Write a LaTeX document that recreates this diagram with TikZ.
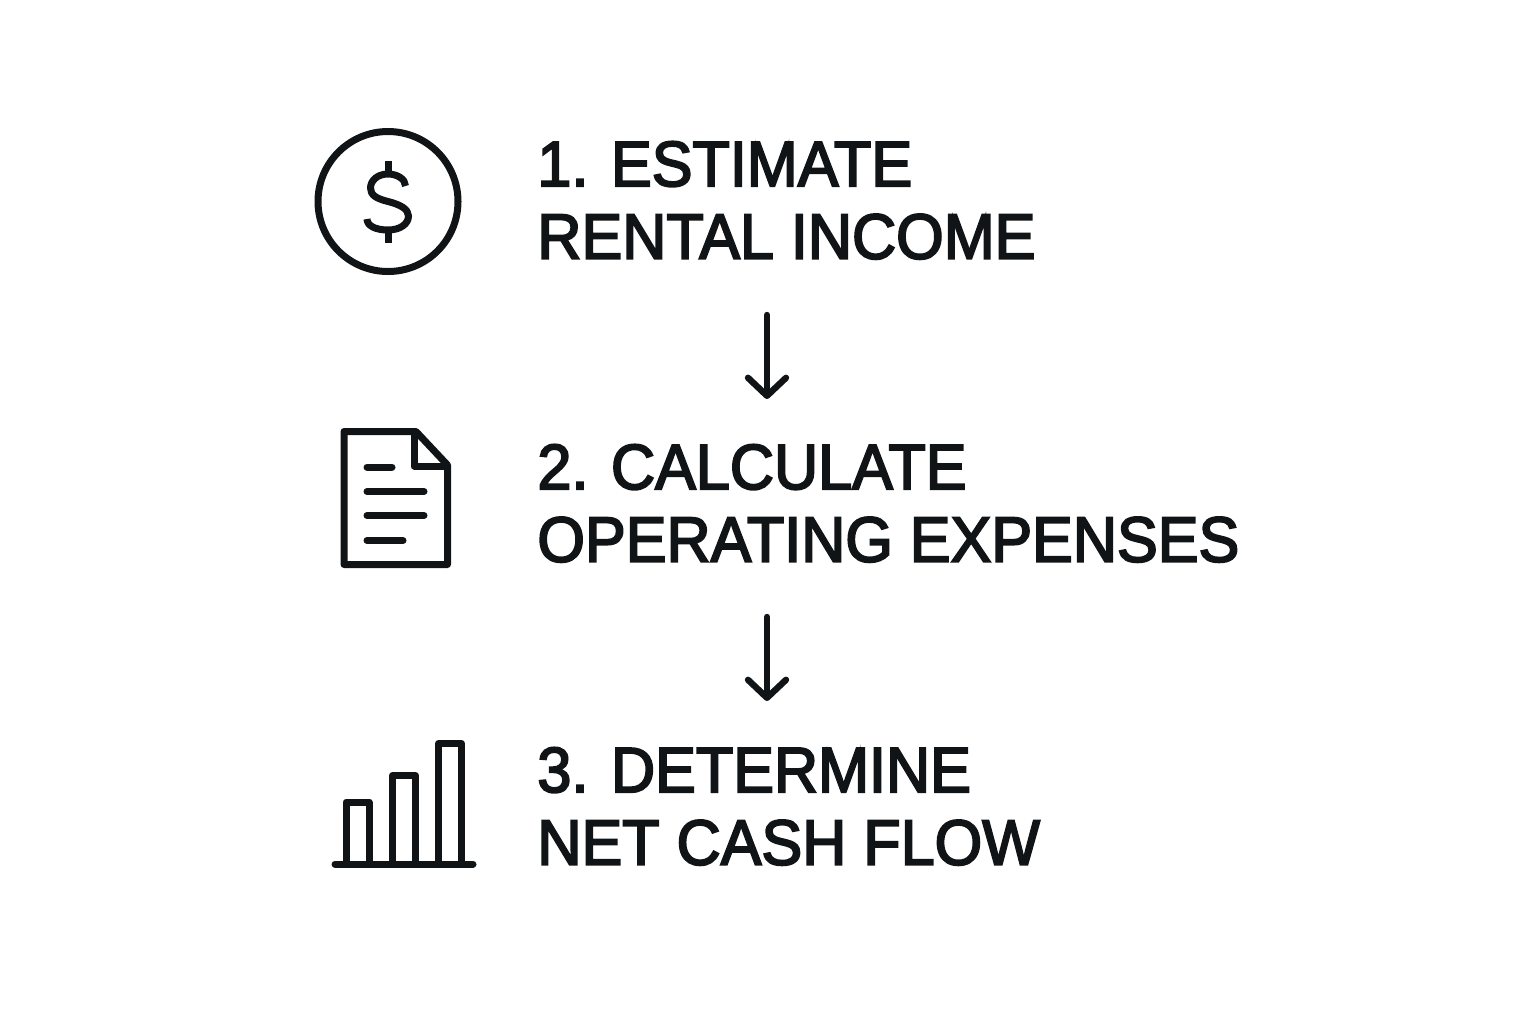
\documentclass[tikz,border=0pt]{standalone}
\usepackage{fontspec}
\setmainfont[FakeBold=3,FakeStretch=0.955]{Liberation Sans}
\usetikzlibrary{arrows.meta}
\definecolor{inkblack}{HTML}{111416}
\tikzset{
    steptext/.style={anchor=north west, inner sep=0pt, align=left, text=inkblack,
        font=\fontsize{32}{36.3}\selectfont},
    iconline/.style={draw=inkblack, line width=3.5pt, line join=round},
    flowarrow/.style={draw=inkblack, line width=3.2pt, line cap=round,
        -{Straight Barb[length=9pt,width=19pt,line width=3.2pt,round]}},
}
\begin{document}
\begin{tikzpicture}[x=0.5pt,y=-0.5pt]
    \useasboundingbox (0,0) rectangle (1536,1024);
    % step labels
    \node[steptext] (step1) at (537,141) {1. ESTIMATE\\RENTAL INCOME};
    \node[steptext] (step2) at (537,444) {2. CALCULATE\\OPERATING EXPENSES};
    \node[steptext] (step3) at (537,747) {3. DETERMINE\\NET CASH FLOW};
    % arrows
    \coordinate (from1) at (767,315);
    \coordinate (to2) at (767,399);
    \coordinate (from2) at (767,617);
    \coordinate (to3) at (767,701);
    \draw[flowarrow] (from1) -- (to2);
    \draw[flowarrow] (from2) -- (to3);
    % dollar icon
    \draw[iconline] (388,201.5) circle (70);
    \draw[iconline] (405.5,186) .. controls (405.5,179) and (397,174) .. (388,174)
        .. controls (377,174) and (370.5,181) .. (370.5,188)
        .. controls (370.5,195) and (376,198.5) .. (388,201.5)
        .. controls (400,204.5) and (408.5,209) .. (408.5,216)
        .. controls (408.5,224) and (400,230) .. (388,230)
        .. controls (376,230) and (367,226) .. (367,219);
    \draw[iconline] (388,161) -- (388,174);
    \draw[iconline] (388,230) -- (388,243);
    % document icon
    \draw[iconline] (344,431.5) -- (416,431.5) -- (447.5,465) -- (447.5,564.5)
        -- (344,564.5) -- cycle;
    \draw[iconline] (414,431.5) -- (414,466) -- (447.5,466);
    \foreach \ly/\lx in {467/392, 491.5/424, 515.5/424, 540.5/403}
        \draw[iconline, line cap=round] (367,\ly) -- (\lx,\ly);
    % bar chart icon
    \foreach \bx/\bt in {346/802, 392.5/775.5, 438.5/743.5}
        \draw[iconline] (\bx,864) -- (\bx,\bt) -- (\bx+23,\bt) -- (\bx+23,864);
    \draw[iconline, line cap=round] (335,864) -- (473,864);
\end{tikzpicture}
\end{document}
